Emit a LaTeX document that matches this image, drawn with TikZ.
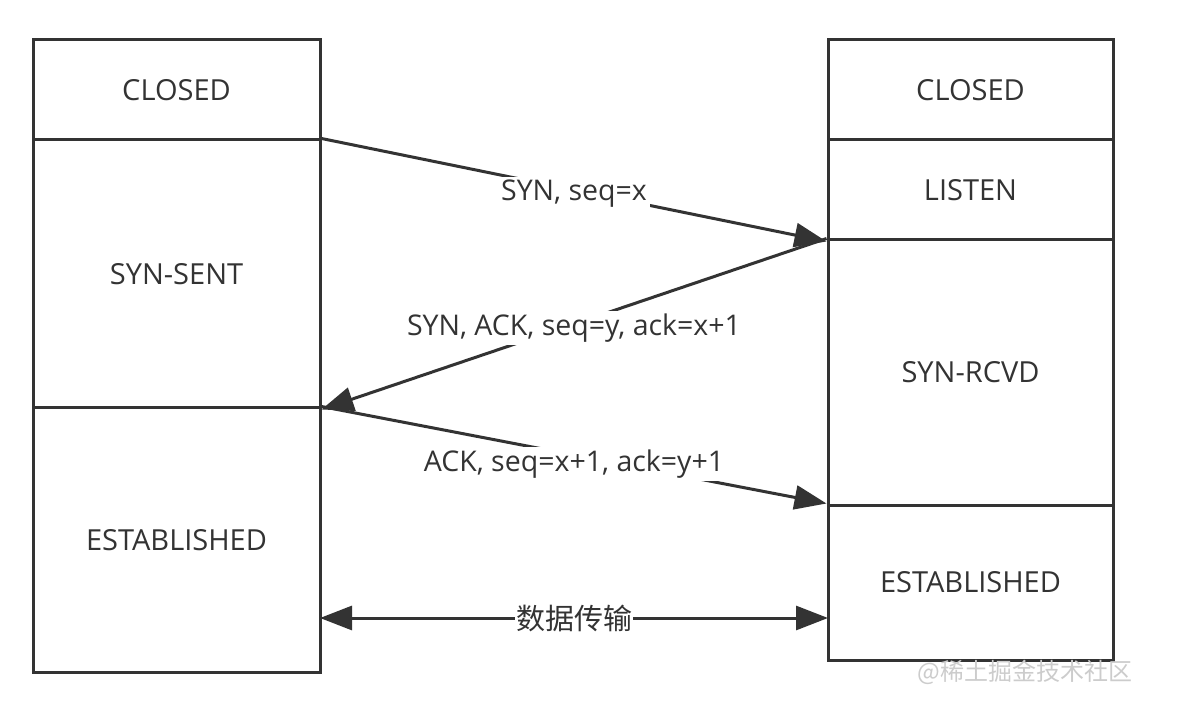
\documentclass[tikz,border=0pt]{standalone}
\usepackage{fontspec}
\setmainfont{Open Sans}
\newfontfamily\cjk{Noto Sans CJK SC}
\usetikzlibrary{arrows.meta}
\definecolor{ink}{HTML}{333333}
\definecolor{wm}{HTML}{CCCCCC}
\begin{document}
\begin{tikzpicture}[x=1pt,y=-1pt,
  statebox/.style={draw=ink,line width=3pt,fill=none,text=ink,font=\fontsize{29}{34}\selectfont},
  msg/.style={draw=ink,line width=3pt,-{Triangle[length=32pt,width=24pt]}},
  msglabel/.style={fill=white,text=ink,inner sep=3pt,yshift=-4pt,font=\fontsize{28.5}{34}\selectfont}]
\useasboundingbox[fill=white] (0,0) rectangle (1178,708);
% left column
\node[statebox,minimum width=287pt,minimum height=100pt] (closedL) at (176.5,90) {CLOSED};
\node[statebox,minimum width=287pt,minimum height=268pt] (sentL) at (176.5,274) {SYN-SENT};
\node[statebox,minimum width=287pt,minimum height=264pt] (estL) at (176.5,540) {ESTABLISHED};
% right column
\node[statebox,minimum width=285pt,minimum height=100pt] (closedR) at (970.5,90) {CLOSED};
\node[statebox,minimum width=285pt,minimum height=100pt] (listenR) at (970.5,190) {LISTEN};
\node[statebox,minimum width=285pt,minimum height=265pt] (rcvdR) at (970.5,372.5) {SYN-RCVD};
\node[statebox,minimum width=285pt,minimum height=155pt] (estR) at (970.5,582.5) {ESTABLISHED};
% messages
\draw[msg] (sentL.north east) -- node[msglabel] {SYN, seq=x} (listenR.south west);
\draw[msg] (rcvdR.north west) -- node[msglabel] {SYN, ACK, seq=y, ack=x+1} (sentL.south east);
\draw[msg] (estL.north east) -- node[msglabel,yshift=-5pt] {ACK, seq=x+1, ack=y+1} (estR.north west);
\coordinate (dl) at (320,618);
\coordinate (dr) at (828,618);
\draw[draw=ink,line width=3pt,{Triangle[length=32pt,width=24pt]}-{Triangle[length=32pt,width=24pt]}] (dl) -- node[fill=white,text=ink,font=\cjk\fontsize{29}{34}\selectfont,inner sep=1pt] {数据传输} (dr);
% watermark
\node[text=wm,font=\cjk\fontsize{24}{28}\selectfont] (wmark) at (1025,672) {@稀土掘金技术社区};
\end{tikzpicture}
\end{document}
